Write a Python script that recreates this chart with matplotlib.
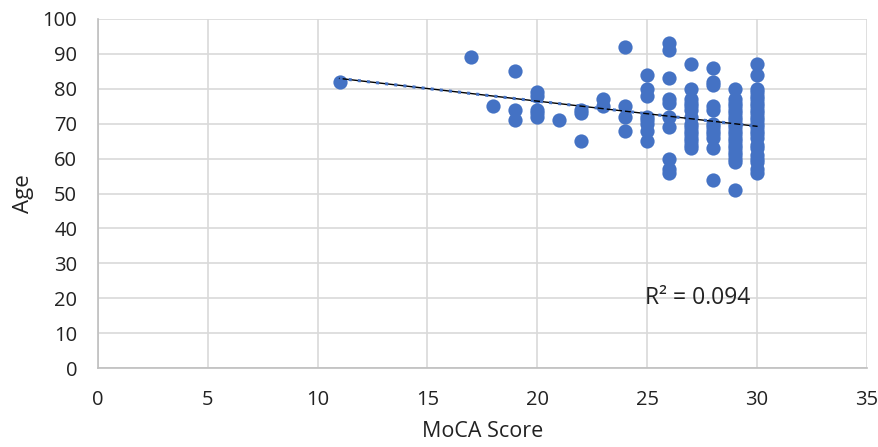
import numpy as np
import matplotlib
matplotlib.use("Agg")
import matplotlib.pyplot as plt

plt.rcParams["font.family"] = ["Open Sans", "DejaVu Sans"]

# MoCA score -> ages
ages_by_score = {
    11: [82],
    17: [89],
    18: [75],
    19: [85, 74, 71],
    20: [79, 78, 74, 73, 72],
    21: [71],
    22: [74, 73, 65],
    23: [77, 75],
    24: [92, 75, 72, 68],
    25: [84, 80, 78, 72, 71, 70, 68, 65],
    26: [93, 91, 83, 77, 76, 72, 69, 60, 57, 56],
    27: [87, 80, 77, 76, 75, 74, 72, 70, 69, 68, 67, 66, 65, 64, 63],
    28: [86, 82, 81, 75, 74, 70, 69, 68, 67, 66, 63, 54],
    29: [80, 77, 76, 75, 74, 73, 72, 71, 70, 69, 68, 67, 66, 65, 64, 63, 62, 61, 60, 59, 51],
    30: [87, 84, 80, 79, 78, 77, 76, 75, 74, 73, 72, 71, 70, 69, 68, 67, 66, 64, 63, 61, 60, 59, 57, 56],
}
moca = np.array([s for s, a in ages_by_score.items() for _ in a], dtype=float)
age = np.array([v for a in ages_by_score.values() for v in a], dtype=float)
r2_label = "R² = 0.094"

fig = plt.figure(figsize=(8.79, 4.47), dpi=100)
ax = fig.add_axes([0.1115, 0.1767, 0.8745, 0.7808])

ax.scatter(moca, age, s=105, color="#4472C4", zorder=3, linewidths=0)

# linear trendline
k, b = np.polyfit(moca, age, 1)
xs = np.array([moca.min(), moca.max()])
ax.plot(xs, k * xs + b, color="black", lw=1.0, zorder=4)
ax.plot(xs, k * xs + b, color="#4472C4", lw=2.2, ls=(0, (1, 2)), zorder=4)

ax.text(24.9, 20, r2_label, fontsize=16.5, va="center", ha="left", color="#222222")

ax.set_xlim(0, 35)
ax.set_ylim(0, 100)
ax.set_xticks(range(0, 36, 5))
ax.set_yticks(range(0, 101, 10))
ax.grid(True, color="#d9d9d9", lw=1.2)
ax.set_axisbelow(True)
for side in ["top", "right"]:
    ax.spines[side].set_visible(False)
for side in ["left", "bottom"]:
    ax.spines[side].set_color("#bfbfbf")
    ax.spines[side].set_linewidth(1.2)
ax.tick_params(length=0, labelsize=14.5, colors="#222222", pad=15)
ax.tick_params(axis="x", pad=16)
ax.set_xlabel("MoCA Score", fontsize=15.5, color="#222222", labelpad=8)
ax.set_ylabel("Age", fontsize=16, color="#222222", labelpad=6)

fig.savefig("out.png", dpi=100)
